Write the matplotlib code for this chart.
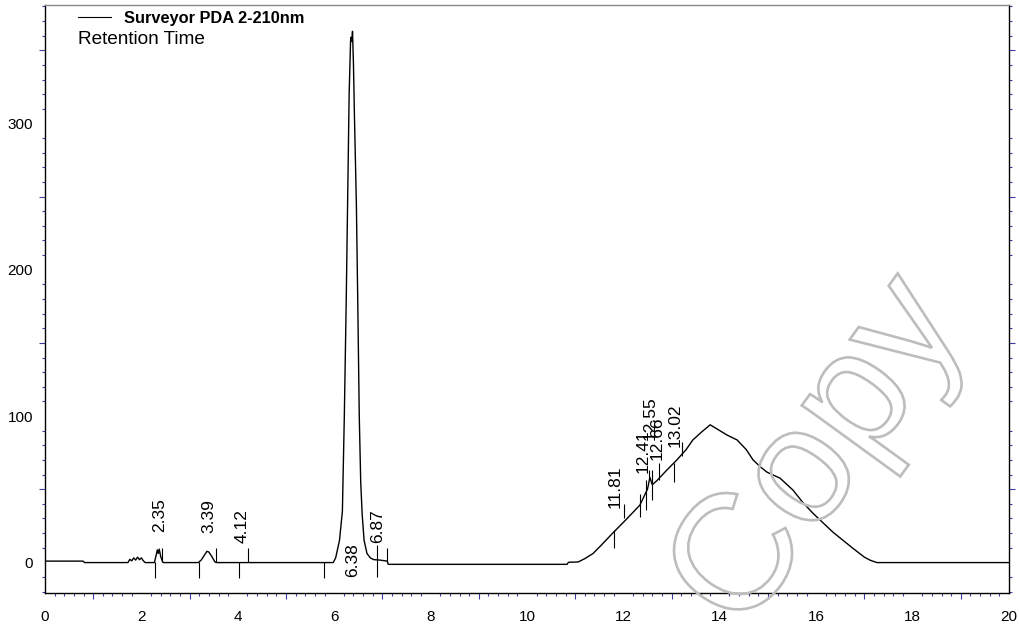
import matplotlib

matplotlib.use("Agg")
import matplotlib.pyplot as plt
import matplotlib.transforms as mtransforms
from matplotlib.font_manager import FontProperties
from matplotlib.lines import Line2D
from matplotlib.patches import PathPatch
from matplotlib.textpath import TextPath
from matplotlib.ticker import MultipleLocator
import numpy as np

plt.rcParams["font.family"] = ["Liberation Sans", "DejaVu Sans"]

# ----- trace (min, mAU) -----------------------------------------------------
rt = [0.0, 0.79, 0.82, 1.72, 1.76, 1.80, 1.84, 1.88, 1.92, 1.96, 2.00, 2.04, 2.08,
      2.27, 2.30, 2.33, 2.35, 2.37, 2.40, 2.44, 2.46,
      3.18, 3.24, 3.30, 3.36, 3.40, 3.46, 3.52, 3.55,
      5.98, 6.03, 6.11, 6.17, 6.21, 6.25, 6.28, 6.31, 6.34, 6.35, 6.365, 6.38,
      6.40, 6.42, 6.46, 6.49, 6.52, 6.55, 6.58, 6.62, 6.68, 6.75, 6.82, 6.95,
      7.10, 7.12, 10.83, 10.86, 11.06, 11.20, 11.37, 11.55, 11.78, 12.05, 12.34,
      12.50, 12.55, 12.60, 12.70, 12.90, 13.11, 13.30, 13.44, 13.62, 13.80,
      13.95, 14.15, 14.36, 14.55, 14.69, 14.85, 14.98, 15.25, 15.52, 15.72,
      15.93, 16.35, 16.76, 17.00, 17.12, 17.26, 20.0]
mau = [0.8, 0.8, -0.2, -0.2, 2.0, 1.0, 3.0, 1.5, 3.5, 1.8, 3.0, 1.0, -0.2,
       -0.2, 4.0, 8.5, 6.0, 9.0, 4.0, 0.3, -0.2,
       -0.2, 1.5, 4.5, 7.5, 7.0, 4.0, 0.5, -0.2,
       -0.2, 3, 15, 35, 100, 180, 250, 320, 357, 359, 356, 363,
       340, 305, 245, 175, 100, 55, 33, 15, 6, 3, 1.8, 1.5,
       0.8, -1.4, -1.4, 0.0, 0.2, 2.5, 6, 12, 20, 29, 39,
       50, 58, 53, 56, 63, 70, 77, 83.6, 89, 94,
       91, 87, 83.6, 77, 70, 65, 61.6, 57.5, 49.3, 41,
       33.6, 20.5, 9.6, 3.5, 1.4, -0.2, -0.2]

# integration marks: time, bottom, top
mark_t = [2.28, 2.43, 3.20, 3.55, 4.03, 4.21, 5.79, 6.89, 7.10,
          11.81, 12.02, 12.34, 12.46, 12.53, 12.60, 12.74, 13.04, 13.21]
mark_lo = [-11, 0, -11, 0, -11, 0, -11, -10, 0,
           10, 30, 31, 35.6, 56, 42.5, 56, 55, 73]
mark_hi = [0, 10, 0, 10, 0, 10, 0, 11.6, 10,
           22, 40, 47, 56, 63, 63, 68, 68, 82]

peak_text = ["2.35", "3.39", "4.12", "6.38", "6.87",
             "11.81", "12.41", "12.55", "12.66", "13.02"]
peak_t = [2.37, 3.39, 4.10, 6.38, 6.90, 11.83, 12.41, 12.55, 12.70, 13.07]
peak_y = [20.5, 20, 13, -10, 13, 37, 61, 83.6, 70, 79]

TICK_BLUE = "#3a3aa8"

fig = plt.figure(figsize=(10.19, 6.28), dpi=100)
ax = fig.add_axes([45 / 1019, 35 / 628, 964 / 1019, 588 / 628])

ax.plot(rt, mau, color="black", lw=1.0, zorder=3)
ax.vlines(mark_t, mark_lo, mark_hi, color="black", lw=0.8, zorder=3)
for s, t, y in zip(peak_text, peak_t, peak_y):
    ax.text(t, y, s, rotation=90, ha="center", va="bottom", fontsize=12.5, zorder=4)

ax.set_xlim(0, 20)
ax.set_ylim(-21, 381)

# major ticks show up only as white nicks in the frame, minors are blue
ax.xaxis.set_major_locator(MultipleLocator(2))
ax.xaxis.set_minor_locator(MultipleLocator(0.2))
ax.yaxis.set_major_locator(MultipleLocator(100))
ax.yaxis.set_minor_locator(MultipleLocator(10))
ax.tick_params(which="major", direction="in", length=3, width=1.2, color="white",
               labelsize=11, top=False, right=True)
ax.tick_params(axis="x", which="major", pad=12.5)
ax.tick_params(axis="y", which="major", pad=8.5)
ax.tick_params(which="minor", direction="out", length=2.4, width=0.8, color=TICK_BLUE,
               top=False, right=True)

fig.canvas.draw()
for axis, step in ((ax.xaxis, 1.0), (ax.yaxis, 50.0)):
    locs = axis.get_minorticklocs()
    for loc, tick in zip(locs, axis.get_minor_ticks(len(locs))):
        if abs(loc / step - round(loc / step)) < 1e-6:
            tick.tick1line.set_markersize(4.5)
            tick.tick2line.set_markersize(4.5)

for side in ("left", "right", "bottom"):
    ax.spines[side].set_color("black")
    ax.spines[side].set_linewidth(1.0)
ax.spines["top"].set_color("#8a8a8a")
ax.spines["top"].set_linewidth(1.0)

# legend block
fig.add_artist(Line2D([78 / 1019, 111 / 1019], [1 - 17 / 628] * 2,
                      transform=fig.transFigure, color="black", lw=0.8))
fig.text(124 / 1019, 1 - 18 / 628, "Surveyor PDA 2-210nm", fontsize=11.8,
         fontweight="bold", va="center", ha="left")
fig.text(78 / 1019, 1 - 40 / 628, "Retention Time", fontsize=13.7,
         va="center", ha="left")

# outlined "Copy" watermark
wm = TextPath((0, 0), "Copy", size=165, prop=FontProperties(family="Liberation Sans"))
wm_tr = mtransforms.Affine2D().rotate_deg(54).translate(742, -8)
patch = PathPatch(wm, transform=wm_tr, facecolor="none", edgecolor="#bdbdbd", lw=1.9,
                  zorder=5)
patch.set_clip_on(False)
fig.add_artist(patch)

fig.savefig("out.png", dpi=100)
